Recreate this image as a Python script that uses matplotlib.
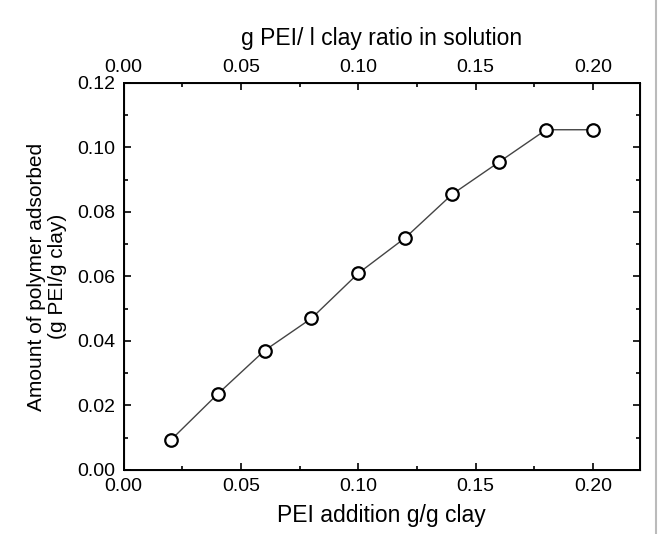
import matplotlib
matplotlib.use("Agg")
import matplotlib.pyplot as plt
from matplotlib.lines import Line2D
from matplotlib.ticker import MultipleLocator

plt.rcParams['font.family'] = ['Liberation Sans', 'DejaVu Sans']

# data
pei_added = [0.02, 0.04, 0.06, 0.08, 0.10, 0.12, 0.14, 0.16, 0.18, 0.20]
adsorbed = [0.0092, 0.0235, 0.037, 0.047, 0.061, 0.072, 0.0855, 0.0955, 0.1055, 0.1055]
x_ticks = [0.00, 0.05, 0.10, 0.15, 0.20]
y_ticks = [0.00, 0.02, 0.04, 0.06, 0.08, 0.10, 0.12]

fig = plt.figure(figsize=(6.58, 5.34), dpi=100)
ax = fig.add_axes([0.188, 0.12, 0.7846, 0.7246])

ax.plot(pei_added, adsorbed, color='#444444', linewidth=1.0,
        marker='o', markersize=9, markerfacecolor='white',
        markeredgecolor='black', markeredgewidth=1.6)

ax.set_xlim(0.0, 0.22)
ax.set_ylim(0.0, 0.12)
ax.set_xticks(x_ticks)
ax.set_yticks(y_ticks)
ax.xaxis.set_minor_locator(MultipleLocator(0.025))
ax.yaxis.set_minor_locator(MultipleLocator(0.01))
ax.set_xticklabels([f"{v:.2f}" for v in x_ticks])
ax.set_yticklabels([f"{v:.2f}" for v in y_ticks])

ax.tick_params(which='both', direction='in', top=True, right=True,
               labelsize=14, width=1.2, pad=6)
ax.tick_params(which='major', length=5)
ax.tick_params(which='minor', length=3)
for s in ax.spines.values():
    s.set_linewidth(1.4)

ax.set_xlabel("PEI addition g/g clay", fontsize=16.5, labelpad=6)
ax.set_ylabel("Amount of polymer adsorbed\n(g PEI/g clay)", fontsize=15,
              linespacing=1.15)
ax.yaxis.set_label_coords(-0.11, 0.5)

# top axis with the same scale
top = ax.twiny()
top.set_xlim(ax.get_xlim())
top.set_xticks(x_ticks)
top.set_xticklabels([f"{v:.2f}" for v in x_ticks])
top.xaxis.set_minor_locator(MultipleLocator(0.025))
top.tick_params(which='both', direction='in', labelsize=14, width=1.2, pad=5)
top.tick_params(which='major', length=5)
top.tick_params(which='minor', length=3)
top.set_xlabel("g PEI/ l clay ratio in solution", fontsize=16.5, labelpad=10)

# faint scan edge on the right
fig.add_artist(Line2D([0.997, 0.997], [0, 1], transform=fig.transFigure,
                      color='#bbbbbb', linewidth=1.5))

fig.savefig("out.png", dpi=100)
